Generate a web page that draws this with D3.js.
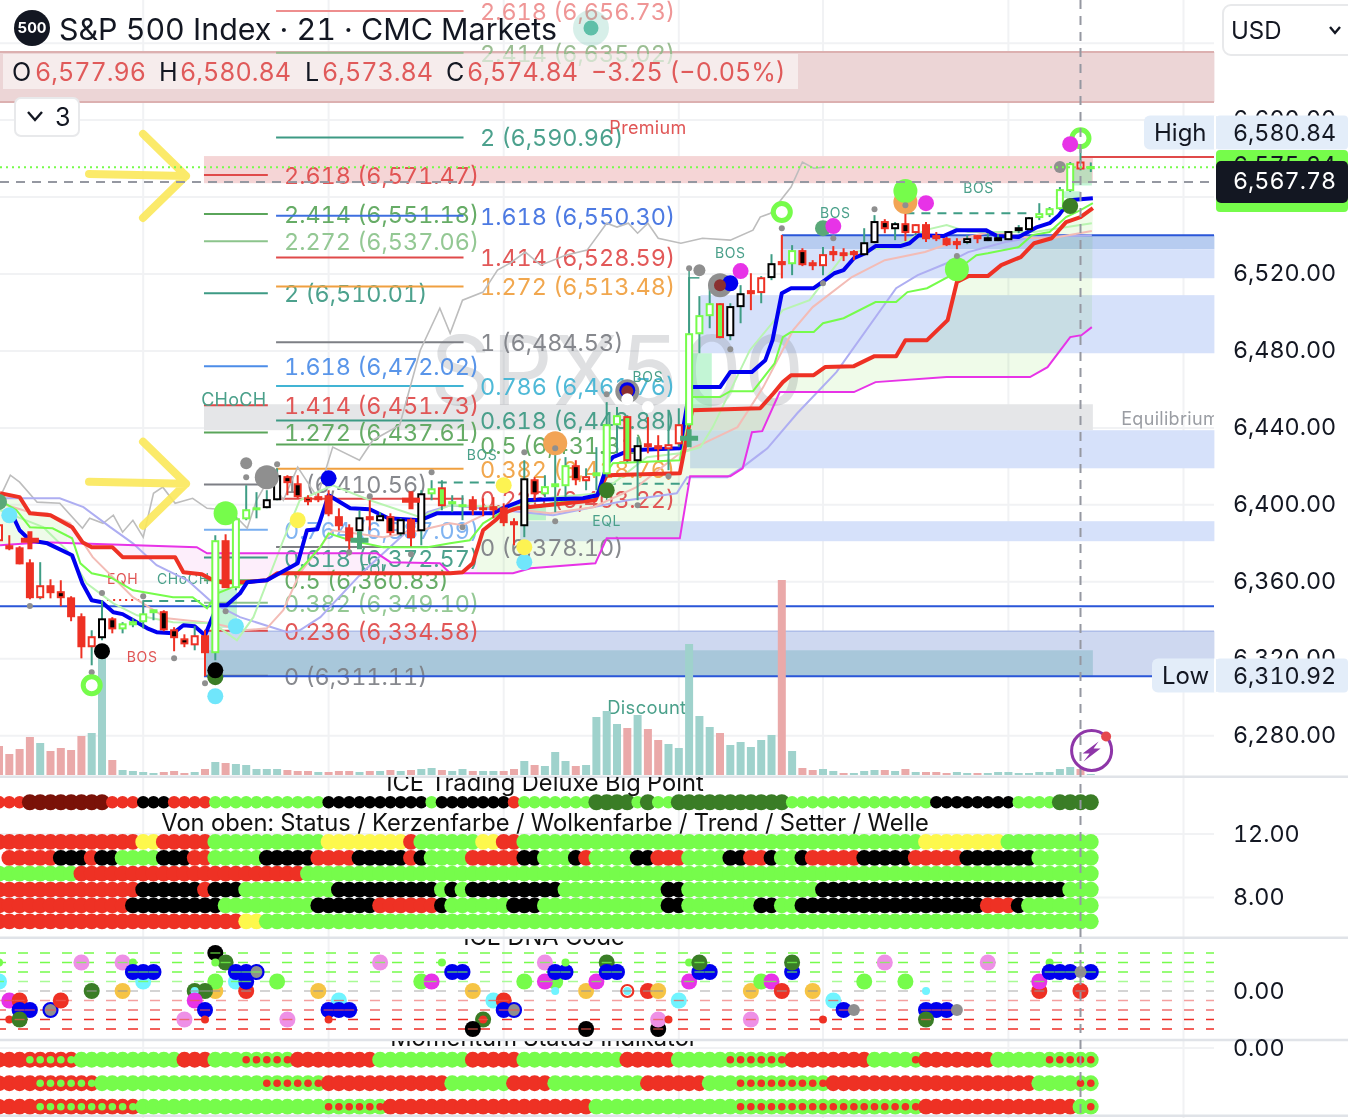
<!DOCTYPE html>
<html><head><meta charset="utf-8">
<style>html,body{margin:0;padding:0;background:#fff;overflow:hidden}svg{display:block;font-family:Inter,"Noto Sans",sans-serif}svg text{font-variant-numeric:tabular-nums;font-feature-settings:"tnum" 1}</style>
<script src="https://cdn.jsdelivr.net/npm/d3@7/dist/d3.min.js"></script>
</head><body><svg id="c" width="1348" height="1118"></svg>
<script>
// ---------- candles (bar index = position in arrays) ----------
const candleKinds = "HRRRHRBRRHKBGGGGBBBHRGRGGGKKBBBRRRRKRKBKRKGXGGRRRRRKBGGGBHGGGXKRRHHGGGXKKRHKRGBRHRRRKKBKBHRRRRKRKKKKKGGGGHG".split("");
const bodyTops = [6389.4,6378.5,6377.4,6369.6,6357.7,6357.7,6354.6,6351.4,6341.6,6331.2,6340.5,6340.5,6337.9,6339,6343.1,6345.2,6344.2,6334.8,6330.1,6331.7,6331.7,6381.1,6381.1,6392.5,6397.2,6398.2,6402.4,6414.9,6414.4,6410.7,6403.4,6404,6404.5,6393.6,6387.8,6393,6393.6,6394.1,6393.6,6392,6392,6405.5,6408.1,6408.6,6401.4,6399.8,6402.4,6398.2,6398.8,6398.2,6391,6413.3,6412.8,6409.2,6410.7,6420.1,6420.1,6414.4,6416.4,6441.4,6446.1,6445.6,6430.5,6431.5,6430.5,6431,6441.4,6488.7,6498.1,6504.3,6504.3,6502.8,6509.5,6511.1,6517.8,6525.1,6526.2,6531.9,6531.9,6525.6,6529.8,6531.4,6530.8,6531.4,6536,6547,6547,6545.9,6545.9,6545.4,6545.4,6539.7,6538.1,6536.6,6538.1,6539.7,6538.6,6538.6,6541.8,6543.8,6549,6551.1,6553.7,6563.6,6577.1,6577.96,6575.6];
const bodyBottoms = [6381.6,6377.4,6369.6,6352,6352,6354.6,6352,6342.1,6326.5,6326.5,6331.2,6335.8,6335.8,6337.9,6339.5,6344.2,6335.3,6331.2,6328,6327.5,6323.4,6323.4,6357.2,6357.2,6393,6397.7,6398.8,6402.9,6411.8,6404.5,6401.9,6402.9,6395.6,6389.4,6381.6,6386.8,6392.5,6392,6385.8,6385.2,6383.2,6386.8,6406,6399.8,6400.8,6399.3,6397.7,6397.7,6397.7,6391,6389.9,6389.4,6406,6406,6409.7,6410.2,6413.3,6412.8,6415.4,6416.4,6441.9,6423.2,6423.2,6430.5,6429.4,6429.4,6432,6441.9,6489.2,6498.6,6487.2,6488.2,6503.3,6510,6510.6,6518.4,6525.1,6525.6,6525.1,6524.6,6524.6,6530.3,6529.8,6530.3,6530.3,6536.6,6543.8,6543.8,6541.8,6541.8,6538.6,6538.6,6535.5,6535.5,6536.6,6538.6,6537.6,6537.6,6538.1,6542.8,6543.3,6549.6,6551.1,6554.2,6563.6,6574.84,6575];
const highs = [6392,6384.2,6378.5,6371.7,6370.2,6361.3,6360.8,6352.5,6343.6,6334.8,6350.4,6341.6,6339,6341,6350.4,6345.2,6345.2,6336.4,6332.7,6336.9,6334.8,6384.2,6384.7,6396.2,6410.2,6406.6,6407.6,6419,6415.4,6415.4,6405,6406,6407.6,6398.2,6389.9,6397.2,6402.4,6396.2,6395.6,6393,6393,6407.6,6412.8,6412.8,6405,6405,6404.5,6403.4,6404,6400.8,6393,6423.2,6414.4,6415.4,6429.4,6424.8,6423.2,6419,6430,6453.4,6450.8,6446.6,6435.2,6445.6,6436.2,6449.2,6450.2,6518.4,6508.5,6512.6,6504.8,6504.8,6514.2,6520.4,6518.9,6530.3,6540.2,6535,6533.4,6527.2,6534,6534.5,6533.4,6532.4,6543.8,6550.6,6548.5,6547,6551.6,6545.9,6547,6541.8,6539.2,6538.6,6540.2,6540.2,6541.2,6540.7,6542.3,6545.4,6549.6,6556.8,6554.8,6565.2,6578.2,6585,6578];
const lows = [6379,6376.4,6369.1,6350.9,6350.9,6351.4,6347.3,6339.5,6320.2,6316.6,6329.6,6333.2,6333.2,6336.4,6335.8,6340,6334.3,6323.9,6326,6324.4,6310.9,6319.2,6357.2,6355.6,6392,6393,6398.2,6402.4,6405,6403.4,6399.8,6401.4,6394.1,6386.8,6373.8,6384.2,6386.8,6392,6384.2,6383.7,6378.5,6379,6402.4,6397.2,6396.2,6392,6394.6,6394.1,6393,6388.9,6379,6383.2,6402.4,6404,6396.2,6404,6410.2,6407.6,6407.6,6414.4,6426.8,6422.2,6402.4,6426.8,6423.2,6418,6430,6440.4,6478.8,6491.8,6486.6,6485.6,6494.4,6501.2,6504.8,6516.8,6517.8,6519.4,6524.1,6522,6519.4,6526.7,6526.7,6527.2,6529.8,6536,6541.2,6537.6,6537.1,6540.2,6536.6,6537.1,6534.5,6532.9,6535.5,6536,6537.1,6537.1,6537.6,6541.2,6542.8,6548,6549.6,6553.2,6562.6,6573.84,6573];
const volumes = [29,21,26,38,32,24,27,25,39,42,125,15,5,4,3,2,3,4,2,3,6,13,12,11,10,6,6,6,5,4,4,3,3,4,4,3,4,4,5,4,5,6,7,5,4,6,4,4,4,4,6,14,10,9,23,14,9,10,58,64,51,47,60,46,35,31,27,131,59,48,42,30,33,28,35,40,195,24,7,5,6,4,2,2,4,5,5,4,6,3,3,3,2,3,2,2,2,3,3,2,2,3,3,6,8,6,1];
const volumeDown = [0,1,2,3,5,6,7,8,11,16,17,18,20,22,28,29,30,32,33,34,36,38,40,43,46,49,50,52,56,61,63,64,70,76,78,79,82,86,88,90,91,92,95,105];

// ---------- moving lines: [bar, price] ----------
const blueLine = [[1.4,6393.6],[2,6386.8],[3,6381.6],[4.7,6380],[7.1,6373.8],[8.1,6359.2],[9,6350.4],[10,6349.4],[11.1,6344.2],[12,6343.2],[14.4,6335.8],[15.3,6333.8],[16.9,6333.2],[17.9,6337.4],[19,6336.9],[20,6332.2],[21.2,6347.8],[22.1,6347.8],[23.4,6354],[24.1,6359.8],[26,6360.8],[29,6369.6],[29.9,6386.8],[30.9,6387.3],[32,6405],[34.1,6398.2],[36,6397.7],[37.8,6393],[40.9,6392],[42.5,6395.6],[48,6395.6],[48.9,6398.2],[50.9,6402.4],[56.7,6403.4],[58.1,6405],[59.1,6421.6],[59.6,6424.8],[61.3,6428.4],[66.1,6429.4],[67.1,6461.2],[70,6461.2],[71,6469],[73.1,6469],[74.4,6475.2],[75.1,6485.6],[76,6510],[76.9,6512.6],[79.1,6512.6],[80.2,6516.8],[81.1,6520.4],[82,6522],[83,6528.2],[84.1,6530.8],[85.1,6534.5],[87.5,6534.5],[88.4,6536],[89.3,6540.2],[91.7,6539.7],[93,6542.8],[95.8,6542.8],[96.9,6539.7],[99,6539.2],[100.8,6544.4],[102,6546.4],[102.9,6550.6],[104,6558.4],[105,6558.9],[106.2,6559.4]];
const redLine = [[0.1,6406],[2,6404],[3,6395.6],[5,6394.6],[7.1,6388.4],[8.1,6380.6],[9,6378],[11,6378],[12,6372.8],[17.1,6372.8],[17.9,6365],[19.7,6363.9],[20.8,6360.8],[21.5,6359.8],[23.7,6359.8],[26,6360.8],[27,6364.4],[43.8,6364.4],[45,6365],[46,6369.6],[47,6386.8],[48.2,6392],[48.9,6395.6],[50.3,6398.2],[57.9,6402.4],[59,6415.4],[66.1,6416.4],[67.3,6449.2],[73.9,6450.2],[75.2,6458],[76.1,6463.8],[76.9,6467.4],[79.1,6467.4],[80.2,6471.6],[83,6472.1],[85,6477.3],[87.1,6477.3],[88,6485.6],[90.1,6485.6],[92.1,6496],[93,6515.8],[94.1,6518.9],[96,6518.9],[97.3,6524.6],[99.2,6528.8],[100.5,6536],[102.2,6538.6],[103.6,6547],[105,6549.6],[106.2,6554.2]];
const limeLine = [[0.1,6402.4],[1.7,6397.2],[3,6388.4],[5.2,6387.8],[7.1,6382.6],[7.9,6369.6],[9,6364.4],[10.8,6362.4],[13,6355.6],[16.9,6352],[18.8,6352],[20.2,6346.2],[21.2,6354],[22.7,6357.2],[24.1,6359.8],[26,6360.8],[27,6364.4],[29,6365],[31.2,6378],[32,6385.2],[34.1,6381.6],[37.3,6378],[41.6,6378],[43.8,6380],[45.7,6381.6],[47,6390.4],[48.6,6395.6],[50.3,6398.2],[57.9,6404],[59,6417],[59.6,6421.6],[66.1,6423.2],[67.1,6456],[70,6456],[71,6459.1],[73.2,6459.1],[75.3,6473.6],[76.1,6487.2],[76.9,6489.8],[79.1,6489.8],[80,6494.4],[82,6497],[85.1,6505.4],[87.1,6505.4],[88.2,6510.6],[90.1,6512.6],[92.1,6518.4],[94.9,6529.8],[96,6530.8],[99,6534],[100.3,6540.2],[102,6541.8],[103.6,6549.6],[105,6553.2],[106.2,6556.8]];
const magentaLine = [[0.1,6379],[4.3,6380.6],[19.2,6378],[20.2,6374.8],[36.7,6374.8],[38,6370.2],[42.8,6369.6],[43.8,6364.4],[49.9,6364.4],[51.6,6367],[57.9,6369.6],[59,6382.6],[66.1,6382.6],[67.1,6414.9],[71,6414.9],[72.2,6419],[73.1,6437.8],[74.1,6438.3],[75.8,6458.6],[83,6458.6],[85.1,6463.8],[92,6466.4],[100.1,6466.4],[101.8,6471.6],[104,6487.2],[105.1,6488.2],[106.1,6492.4]];
const paleBlueLine = [[0.1,6403.4],[5.9,6403.4],[8.2,6398.8],[10.8,6388.4],[13,6380],[15.3,6368.6],[18.3,6360.8],[20.8,6348.8],[23.4,6341.6],[28,6333.8],[29.2,6334.8],[31.2,6341.6],[35.3,6365],[39,6383.2],[41.6,6396.2],[43.8,6399.8],[53.8,6394.6],[61,6402.4],[65.8,6406],[66.8,6414.4],[70.7,6414.4],[72.2,6419.6],[74.6,6429.4],[77.5,6447.6],[81.3,6469],[87.1,6512.6],[89.2,6519.4],[92,6525.6],[94.1,6531.4],[97.7,6536.6],[100.5,6539.2],[106.1,6540.2]];
const paleRedLine = [[0.1,6400.8],[3,6396.2],[4.7,6395.6],[6.9,6390.4],[9.1,6372.8],[13,6352],[16.3,6341],[20.8,6338.4],[23.7,6334.8],[26,6335.8],[27.6,6345.2],[29.2,6364.4],[32.4,6386.8],[37.3,6383.2],[40.9,6386.8],[43.8,6390.4],[45,6389.4],[48.6,6398.8],[53.5,6395.6],[57.7,6398.8],[61.9,6409.2],[66.1,6426.8],[68.4,6432],[71.7,6440.4],[74.2,6461.2],[77.1,6490.8],[79,6502.8],[82.8,6518.4],[86,6527.2],[89.9,6531.4],[94.1,6539.2],[96.2,6541.8],[100.5,6538.6],[102.2,6538.6],[106.1,6542.3]];
const paleGreenLine = [[0.1,6397.2],[4.3,6388.4],[6.6,6376.4],[8.5,6359.2],[11.1,6348.8],[13.4,6342.6],[16.9,6339],[20.8,6338.4],[23.1,6329.6],[24.7,6341.6],[27.6,6381.6],[29.2,6402.4],[32.4,6410.2],[36,6402.4],[40.9,6393.6],[43.8,6399.8],[49.6,6398.8],[53.8,6404],[58.4,6406],[62.9,6424.8],[66.1,6426.8],[68.1,6430],[69.3,6440.4],[72.9,6480.4],[76.1,6501.2],[78.7,6506.4],[82,6529.8],[83.9,6532.4],[87.1,6534],[89.9,6542.8],[92,6545.4],[94.1,6541.8],[96.2,6541.8],[100.5,6541.8],[106.1,6546.4]];
const greyLine = [[0.1,6404],[1.1,6415.4],[2,6411.8],[3.7,6401.4],[5.9,6400.8],[8.1,6387.8],[8.8,6393],[10.1,6390.4],[11.1,6394.6],[12,6385.8],[13,6392],[14,6383.2],[15,6406],[15.9,6409.2],[17.1,6400.8],[18.8,6403.4],[20.2,6398.2],[22.4,6397.2],[24.1,6387.8],[25,6402.4],[26.3,6414.4],[27.6,6402.4],[29,6419.6],[30.9,6404],[32.4,6430],[35,6423.2],[36.3,6433.6],[38.9,6441.4],[40.9,6480.4],[42.8,6502.2],[43.8,6489.2],[45,6506.4],[47,6510.6],[48.4,6522],[49.6,6525.6],[51.1,6531.4],[52.6,6524.6],[55,6529.8],[57.1,6532.4],[59,6546.4],[60,6544.4],[61.1,6546.4],[62,6541.2],[63,6546.4],[64,6538.6],[66.2,6536],[68.3,6538.6],[71,6537.6],[73.2,6542.8],[73.9,6549.6],[74.9,6551.6],[76.9,6565.2],[78,6578.2],[79.1,6575],[80.2,6575.6]];

// ---------- zones: [fromBar, toBar, topPrice, bottomPrice, kind] ----------
const zones = [
 [-0.1,118,6635.4,6609.4,"premiumBand"],[19.9,106.2,6581.3,6567.2,"premium"],
 [76,118,6540.2,6532.9,"blueDark"],[76,118,6532.9,6517.8,"blue"],[68.1,118,6509,6478.8,"blue"],
 [19.9,106.2,6452.3,6438.8,"equilibrium"],[67.1,118,6438.8,6419,"blue"],[50.6,118,6391.5,6381.1,"blue"],
 [19.9,118,6334.3,6310.9,"discount"],[19.9,106.2,6324.4,6310.9,"discountDark"]];
const gapBoxes = [[67.1,69.2,6478.8,6449.2],[51.2,53.1,6399.8,6392],[21,23.1,6356.2,6336],[104,106.1,6575,6566],[103,105,6563,6559.5]];

// ---------- fibonacci sets ----------
const fibLeftRatios = ["2.618","2.414","2.272","2","1.618","1.414","1.272","1","0.764","0.618","0.5","0.382","0.236","0"];
const fibLeftPrices = [6571.47,6551.18,6537.06,6510.01,6472.02,6451.73,6437.61,6410.56,6387.09,6372.57,6360.83,6349.10,6334.58,6311.11];
const fibLeftKinds = ["red","green","paleGreen","teal","blue","red","green","grey","skyBlue","teal","green","paleGreen","red","grey"];
const fibRightRatios = ["2.618","2.414","2","1.618","1.414","1.272","1","0.786","0.618","0.5","0.382","0.236","0"];
const fibRightPrices = [6656.73,6635.02,6590.96,6550.30,6528.59,6513.48,6484.53,6461.76,6443.88,6431.31,6418.76,6403.22,6378.10];
const fibRightKinds = ["paleRed","olive","teal","royal","red","orange","grey","cyan","teal","green","orange","red","grey"];

// ---------- markers on the price pane: [bar, price, kind] ----------
const priceMarkers = [[0,6401.5,"softGreen"],[1,6394.6,"cyan"],[3,6347.4,"gray"],[10,6354.2,"gray"],[9,6313,"gray"],[9,6306.2,"ring"],[10,6323.9,"black"],[14,6352.5,"gray"],[17,6320.2,"gray"],[20,6307.2,"gray"],[21,6310.4,"darkGreen"],[21,6314,"black"],[21,6300.5,"cyan"],[23,6336.9,"cyan"],[22,6395.6,"limeBig"],[24,6421.6,"grayMid"],[24,6414.4,"gray"],[26,6414.4,"grayBig"],[27,6421.1,"gray"],[29,6392,"yellow"],[32,6413.8,"blue"],[36,6404.5,"gray"],[34,6375.4,"gray"],[40,6374.3,"gray"],[42,6417,"gray"],[22,6344.7,"gray"],[45,6388.4,"gray"],[49,6410.2,"yellow"],[51,6427.4,"gray"],[51,6370.2,"cyan"],[51,6378,"yellow"],[54,6432,"orangeBig"],[54,6429.4,"gray"],[54,6391.5,"gray"],[59,6407.6,"darkGreen"],[59,6457.5,"gray"],[61,6459.1,"grayBig"],[61,6459.6,"blue"],[61,6459.1,"darkRed"],[61,6454.9,"white"],[63,6450.8,"white"],[62,6399.8,"gray"],[65,6414.9,"gray"],[67,6523,"gray"],[68,6522,"grayMid"],[70,6514.2,"grayBig"],[71,6515.2,"blue"],[70,6514.2,"darkRed"],[72,6521.5,"magenta"],[71,6480.9,"gray"],[80,6515.2,"gray"],[76,6552.2,"ring"],[76,6543.8,"gray"],[80,6543.8,"softGreen"],[81,6544.9,"magenta"],[81,6538.6,"gray"],[85,6553.7,"gray"],[88,6557.4,"orangeBig"],[88,6563.1,"limeBig"],[88,6555.8,"gray"],[90,6556.8,"magenta"],[93,6522.5,"limeBig"],[93,6529.3,"gray"],[104,6555.3,"darkGreen"],[103,6575.6,"grayMid"],[105,6590.6,"ring"],[104,6587.5,"magenta"]];
const plusMarkers = [[3,6381.6,"red"],[40,6402.4,"red"],[35,6381.6,"teal"],[67,6434.6,"teal"]];

// ---------- small texts: [text, bar, price, size, kind] ----------
const chartNotes = [["Premium",63,6596.4,18,"red"],["Equilibrium",113.7,6445,18,"grey"],["Discount",62.9,6294.6,18.4,"teal"],["CHoCH",22.8,6454.9,18,"teal"],["BOS",71,6530.8,14,"teal"],["BOS",81.2,6551.6,14,"teal"],["BOS",95.1,6564.6,14,"teal"],["BOS",63,6466.4,14,"teal"],["BOS",46.9,6425.8,14,"teal"],["BOS",13.9,6320.8,14,"red"],["EQL",59,6391.5,14,"teal"],["EQH",12,6361.3,14,"red"],["CHoCH",17.9,6361.3,14,"teal"],["EQL",36.5,6366,14,"teal"]];
const dashedLevels = [[42.6,49.3,6411.6,"teal"],[59,67,6411,"teal"],[88,100,6551.6,"teal"],[14,19.5,6350,"teal"],[10.5,14,6350.5,"redDot"]];

// ---------- oscillator rows as runs of [state, count] ----------
const bigPointRuns = [["red",3],["maroon",8],["red",3],["black",3],["red",4],["lime",11],["black",10],["lime",1],["black",7],["red",1],["lime",7],["forest",4],["lime",1],["forest",1],["lime",2],["forest",11],["lime",14],["black",8],["lime",4],["forest",4]];
const statusRuns = [["red",14],["yellow",2],["red",5],["lime",11],["yellow",8],["red",1],["lime",6],["yellow",2],["red",2],["lime",39],["yellow",8],["lime",9]];
const candleColorRuns = [["none",1],["red",5],["black",3],["red",1],["black",2],["lime",4],["black",3],["red",2],["lime",5],["black",5],["red",4],["black",5],["red",1],["black",1],["lime",4],["red",5],["black",2],["lime",3],["black",1],["red",1],["lime",4],["black",2],["red",3],["lime",4],["black",2],["red",2],["black",1],["lime",2],["black",1],["red",5],["black",5],["red",5],["black",7],["lime",6]];
const cloudRuns = [["lime",8],["red",22],["lime",77]];
const trendRuns = [["red",14],["black",6],["red",1],["black",3],["lime",9],["black",10],["lime",1],["black",1],["lime",1],["black",9],["lime",10],["black",2],["lime",13],["black",24],["lime",3]];
const setterRuns = [["red",13],["black",9],["lime",9],["black",6],["red",6],["black",1],["lime",6],["black",3],["lime",12],["black",2],["lime",7],["black",2],["lime",2],["black",18],["red",3],["black",1],["lime",7]];
const waveRuns = [["red",24],["yellow",2],["lime",81]];
const momentumRunsA = [["red",3],["redLime",5],["lime",10],["red",3],["lime",3],["limeRed",5],["red",8],["lime",9],["red",5],["lime",10],["red",5],["lime",5],["limeRed",6],["red",8],["lime",4],["limeRed",1],["red",7],["lime",5],["limeRed",5]];
const momentumRunsB = [["red",4],["redLime",6],["lime",16],["limeRed",6],["red",12],["lime",6],["red",4],["lime",9],["red",6],["lime",3],["limeRed",9],["red",20],["lime",4],["limeRed",2]];
const momentumRunsC = [["red",4],["redLime",10],["lime",18],["limeRed",6],["red",20],["lime",14],["limeRed",18],["red",15],["lime",1],["limeRed",1]];
const deluxeRowValues = [14];
const iceRowValues = [11.5,10.5,9.5,8.5,7.5,6.5];
const momentumRowValues = [-0.5,-1.5,-2.5];

// ---------- DNA code: [bar, level, kind] ----------
const dnaLevels = [4,3,2,1,0,-1,-2,-3,-4];
const dnaKinds = ["lime","lime","lime","paleLime","pale","paleRed","midRed","red","red"];
const dnaPoints = [[0,3,"limeS"],[0,1,"cyan"],[1,-1,"magenta"],[2,-1,"red"],[2,-2,"blue"],[3,-2,"blue"],[1,-3,"redS"],[2,-3,"darkGreen"],[5,-2,"grayRing"],[6,-1,"red"],[8,3,"orchid"],[9,0,"darkGreen"],[12,3,"orchid"],[13,3,"limeS"],[12,0,"gold"],[14,1,"cyan"],[13,2,"blue"],[14,2,"blue"],[15,2,"blue"],[21,4,"black"],[22,3,"darkGreen"],[21,3,"limeS"],[21,0,"gold"],[21,1,"lime"],[19,0,"darkGreen"],[20,0,"darkGreen"],[19,0,"cyanS"],[19,-1,"magenta"],[20,-2,"blue"],[20,-3,"redS"],[18,-3,"orchid"],[23,1,"cyan"],[24,0,"red"],[24,1,"blue"],[23,2,"blue"],[24,2,"blue"],[25,2,"grayRing"],[27,1,"lime"],[31,0,"gold"],[33,-1,"cyan"],[32,-2,"blue"],[33,-2,"blue"],[34,-2,"blue"],[32,-3,"redS"],[28,-3,"orchid"],[37,3,"orchid"],[43,3,"limeS"],[41,1,"lime"],[42,1,"magenta"],[44,2,"blue"],[45,2,"blue"],[46,0,"gold"],[48,-1,"cyan"],[49,-1,"red"],[49,-2,"blue"],[50,-2,"grayRing"],[47,-3,"darkGreen"],[47,-3,"redS"],[46,-4,"black"],[51,1,"lime"],[53,3,"orchid"],[54,1,"lime"],[53,1,"magenta"],[54,2,"blue"],[55,2,"blue"],[55,3,"limeS"],[54,0,"cyanS"],[57,0,"gold"],[57,-4,"black"],[58,1,"magenta"],[59,3,"darkGreen"],[59,2,"blue"],[60,2,"blue"],[61,0,"redRing"],[63,0,"red"],[64,0,"gold"],[64,-4,"black"],[64,-3,"orchid"],[65,-3,"redS"],[66,-1,"cyan"],[67,3,"limeS"],[67,1,"magenta"],[68,2,"blue"],[69,2,"blue"],[68,3,"darkGreen"],[73,0,"gold"],[73,-3,"orchid"],[74,1,"lime"],[75,1,"magenta"],[76,0,"red"],[77,2,"blue"],[77,3,"darkGreen"],[79,0,"gold"],[80,-3,"redS"],[81,-1,"cyan"],[82,-2,"blue"],[83,-2,"grayS"],[84,1,"lime"],[86,3,"orchid"],[88,1,"lime"],[90,0,"cyanS"],[90,-2,"blue"],[91,-2,"blue"],[92,-2,"blue"],[93,-2,"grayS"],[90,-3,"darkGreen"],[96,3,"orchid"],[102,3,"limeS"],[101,0,"red"],[101,1,"magenta"],[102,2,"blue"],[103,2,"blue"],[104,2,"blue"],[106,2,"blue"],[105,2,"grayS"],[105,0,"red"]];

// ---------- axes & texts ----------
const priceTicks = [6600,6575.84,6520,6480,6440,6400,6360,6320,6280];
const priceGrid = [6640,6600,6560,6520,6480,6440,6400,6360,6320,6280];
const verticalGridBars = [14,32,49,66,80,98,115];
const iceTicks = [12,8];
const dnaTicks = [0];
const momentumTicks = [0];
const headerFields = [["O","6,577.96"],["H","6,580.84"],["L","6,573.84"],["C","6,574.84"]];
const headerChange = "\u22123.25 (\u22120.05%)";
const lastPrice = 6567.78, sessionHigh = 6580.84, sessionLow = 6310.92, prevDotted = 6575.5, blueLevel = 6347.3, topBlueLevel = 6540.2;

// ---------- styles ----------
const RED="#ee3124", LIME="#76fc4b", TEAL="#3f9d85";
const fibColors={red:"#e04a4a",green:"#5aa55a",paleGreen:"#8cc48c",teal:"#3d9a84",blue:"#4c8de8",grey:"#7d7f85",skyBlue:"#77aef0",paleRed:"#ee8e8e",olive:"#93b98a",royal:"#3e6fe0",orange:"#f0a040",cyan:"#41b4d4"};
const zoneStyle={premiumBand:"#ecd5d6",premium:"#f5d5d6",blue:"#d6e1fa",blueDark:"#b7ccf0",equilibrium:"#e5e6e8",discount:"#ced8f0",discountDark:"#a8c7da"};
const markerStyle={softGreen:["#5aa878",8],cyan:["#70e6fb",8],gray:["#8f8f8f",3],grayMid:["#8f8f8f",6],grayBig:["#8f8f8f",12],black:["#000",8],darkGreen:["#3a7d26",8],limeBig:[LIME,12],yellow:["#fdf352",8],blue:["#0000ee",8],orangeBig:["#f2a455",12],darkRed:["#8a3030",6],white:["#fff",6],magenta:["#e733e7",8]};
const dotColors={red:RED,lime:LIME,black:"#000",yellow:"#fdf84c",maroon:"#7a1208",forest:"#3a7d26"};
const dnaStroke={lime:"#76fc4b",paleLime:"#a8fb95",pale:"#c6c6c6",paleRed:"#f4a0a0",midRed:"#ee7070",red:"#ee2d24"};
const dnaStyle={lime:[LIME,8],limeS:[LIME,4],cyan:["#70f4ff",8],cyanS:["#70f4ff",4],magenta:["#e733e7",8],red:[RED,8],redS:[RED,4],blue:["#0000ee",8],darkGreen:["#3a7d26",8],orchid:["#ee90e6",8],gold:["#f6c445",8],black:["#000",8],grayS:["#8f8f8f",6]};

// ---------- scales ----------
const svg=d3.select("#c");
const W=1348,H=1118,plotR=1214;
const x=d3.scaleLinear().domain([0,106]).range([-1,1090.8]);
const y=d3.scaleLinear().domain([6520,6280]).range([274,735.7]);
const vol=d3.scaleLinear().domain([0,195]).range([775,580]);
const iceY=d3.scaleLinear().domain([8,12]).range([897.5,834]);
const dnaY=d3.scaleLinear().domain([0,4]).range([991,953]);
const momY=d3.scaleLinear().domain([0,-1]).range([1048,1071.5]);
const line=d3.line().x(d=>x(d[0])).y(d=>y(d[1]));
const expand=runs=>runs.flatMap(([s,n])=>d3.range(n).map(()=>s));

const defs=svg.append("defs");
const clip=(id,a,b,c,d)=>defs.append("clipPath").attr("id",id).append("rect").attr("x",a).attr("y",b).attr("width",c).attr("height",d);
clip("plot",0,0,plotR,777);
clip("cloudPink",x(6.6),0,x(46.4)-x(6.6),777);
clip("cloudGreen",x(46.4),0,x(106.2)-x(46.4),777);
clip("cloudGreenL",0,0,x(6.6),777);
clip("t1",0,777,W,40);clip("t3",0,939,W,30);clip("t4",0,1041,W,30);clip("eq",0,0,plotR,H);

// grid
const grid=svg.append("g").attr("stroke","#f1f2f4").attr("stroke-width",2);
grid.selectAll(".v").data(verticalGridBars).join("line").attr("class","v").attr("x1",d=>x(d)).attr("x2",d=>x(d)).attr("y1",0).attr("y2",H);
grid.selectAll(".h").data(priceGrid).join("line").attr("class","h").attr("x1",0).attr("x2",plotR).attr("y1",d=>y(d)).attr("y2",d=>y(d));
grid.selectAll(".i").data(iceTicks).join("line").attr("class","i").attr("x1",0).attr("x2",plotR).attr("y1",d=>iceY(d)).attr("y2",d=>iceY(d));
grid.selectAll(".m").data(momentumTicks).join("line").attr("class","m").attr("x1",0).attr("x2",plotR).attr("y1",d=>momY(d)).attr("y2",d=>momY(d));

// zones
const zg=svg.append("g");
zg.selectAll("rect").data(zones).join("rect").attr("x",d=>x(d[0])).attr("width",d=>x(d[1])-x(d[0])).attr("y",d=>y(d[2])).attr("height",d=>y(d[3])-y(d[2])).attr("fill",d=>zoneStyle[d[4]]);
zg.append("line").attr("x1",0).attr("x2",plotR).attr("y1",y(6635.4)).attr("y2",y(6635.4)).attr("stroke","#dcb0b0").attr("stroke-width",2);
zg.append("line").attr("x1",0).attr("x2",plotR).attr("y1",y(6609.4)).attr("y2",y(6609.4)).attr("stroke","#dcb0b0").attr("stroke-width",2);
zg.append("line").attr("x1",x(19.9)).attr("x2",plotR).attr("y1",y(6334.3)).attr("y2",y(6334.3)).attr("stroke","#aebde8").attr("stroke-width",1.5);

// watermark
svg.append("text").attr("x",430).attr("y",y(6452)).attr("font-size",96).attr("fill","#7d8088").attr("opacity",.24).text("SPX500");

// cloud
const cloudPath="M"+redLine.map(d=>x(d[0])+","+y(d[1])).join("L")+"L"+magentaLine.slice().reverse().map(d=>x(d[0])+","+y(d[1])).join("L")+"Z";
svg.append("path").attr("d",cloudPath).attr("fill","#fdeefb").attr("style","mix-blend-mode:multiply").attr("clip-path","url(#cloudPink)");
svg.append("path").attr("d",cloudPath).attr("fill","#effbe9").attr("style","mix-blend-mode:multiply").attr("clip-path","url(#cloudGreen)");
svg.append("path").attr("d",cloudPath).attr("fill","#effbe9").attr("style","mix-blend-mode:multiply").attr("clip-path","url(#cloudGreenL)");

// gap boxes
svg.append("g").selectAll("rect").data(gapBoxes).join("rect").attr("x",d=>x(d[0])).attr("width",d=>x(d[1])-x(d[0])).attr("y",d=>y(d[2])).attr("height",d=>y(d[3])-y(d[2])).attr("fill","#6fe89a").attr("opacity",.42);

// fib sets
function fibSet(ratios,prices,kinds,x0,x1,tx){
  const g=svg.append("g");
  g.selectAll("line").data(prices).join("line").attr("x1",x0).attr("x2",x1).attr("y1",d=>y(d)).attr("y2",d=>y(d)).attr("stroke",(d,i)=>fibColors[kinds[i]]).attr("stroke-width",2);
  g.selectAll("text").data(prices).join("text").attr("x",tx).attr("y",d=>y(d)).attr("dy",".38em").attr("font-size",23.4).attr("fill",(d,i)=>fibColors[kinds[i]]).attr("opacity",.92).text((d,i)=>ratios[i]+" ("+d3.format(",.2f")(d)+")");
}
fibSet(fibLeftRatios,fibLeftPrices,fibLeftKinds,x(19.9),x(26.1),284);
fibSet(fibRightRatios,fibRightPrices,fibRightKinds,x(26.9),x(45.1),480);

// horizontals
const hl=svg.append("g");
hl.append("line").attr("x1",0).attr("x2",plotR).attr("y1",y(blueLevel)).attr("y2",y(blueLevel)).attr("stroke","#2a56d8").attr("stroke-width",2);
hl.append("line").attr("x1",x(19.9)).attr("x2",plotR).attr("y1",y(sessionLow)).attr("y2",y(sessionLow)).attr("stroke","#2a56d8").attr("stroke-width",2);
hl.append("line").attr("x1",x(76)).attr("x2",plotR).attr("y1",y(topBlueLevel)).attr("y2",y(topBlueLevel)).attr("stroke","#2a56d8").attr("stroke-width",2);
hl.append("line").attr("x1",x(105)).attr("x2",plotR).attr("y1",y(sessionHigh)).attr("y2",y(sessionHigh)).attr("stroke","#e04a4a").attr("stroke-width",2);
hl.append("line").attr("x1",x(76)).attr("x2",x(76)).attr("y1",y(6540.2)).attr("y2",y(6517.8)).attr("stroke","#e04a4a").attr("stroke-width",1.5);
hl.append("line").attr("x1",x(67)).attr("x2",x(67)).attr("y1",y(6523)).attr("y2",y(6490)).attr("stroke",TEAL).attr("stroke-width",1.5);
hl.append("line").attr("x1",x(67)).attr("x2",x(68)).attr("y1",y(6518)).attr("y2",y(6518)).attr("stroke",TEAL).attr("stroke-width",1.5);
hl.append("line").attr("x1",x(59)).attr("x2",x(59)).attr("y1",y(6411)).attr("y2",y(6402)).attr("stroke",TEAL).attr("stroke-width",1.5);
hl.selectAll(".dl").data(dashedLevels).join("line").attr("class","dl").attr("x1",d=>x(d[0])).attr("x2",d=>x(d[1])).attr("y1",d=>y(d[2])).attr("y2",d=>y(d[2])).attr("stroke",d=>d[3]==="teal"?TEAL:RED).attr("stroke-width",2).attr("stroke-dasharray",d=>d[3]==="teal"?"9 7":"2 4");

// notes
svg.append("g").attr("clip-path","url(#eq)").selectAll("text").data(chartNotes).join("text").attr("x",d=>x(d[1])).attr("y",d=>y(d[2])).attr("dy",".36em").attr("text-anchor","middle").attr("font-size",d=>d[3]).attr("letter-spacing",d=>d[3]===14?.6:.3).attr("fill",d=>d[4]==="red"?"#e05555":d[4]==="teal"?"#4aa08a":"#9a9da3").text(d=>d[0]);

// moving lines
const lg=svg.append("g").attr("fill","none").attr("clip-path","url(#plot)");
lg.append("path").attr("d",line(greyLine)).attr("stroke","#bdbdbd").attr("stroke-width",1.6);
lg.append("path").attr("d",line(paleBlueLine)).attr("stroke","#aeaef2").attr("stroke-width",2);
lg.append("path").attr("d",line(paleRedLine)).attr("stroke","#f3bcb6").attr("stroke-width",2);
lg.append("path").attr("d",line(paleGreenLine)).attr("stroke","#b9f4b1").attr("stroke-width",2);
lg.append("path").attr("d",line(magentaLine)).attr("stroke","#e733e7").attr("stroke-width",2);
lg.append("path").attr("d",line(limeLine)).attr("stroke",LIME).attr("stroke-width",2);
lg.append("path").attr("d",line(redLine)).attr("stroke",RED).attr("stroke-width",4).attr("stroke-linejoin","round");
lg.append("path").attr("d",line(blueLine)).attr("stroke","#0000f0").attr("stroke-width",4).attr("stroke-linejoin","round");

// volume
svg.append("g").selectAll("rect").data(volumes).join("rect").attr("x",(d,i)=>x(i)-4).attr("width",8).attr("y",d=>vol(d)).attr("height",d=>vol(0)-vol(d)).attr("fill",(d,i)=>volumeDown.includes(i)?"#eaa9a9":"#9fd2cc");

// candles
const bodyFill={R:RED,B:"#000",H:"#fff",G:"#fff",K:"#fff",X:LIME};
const bodyStroke={R:RED,B:RED,H:RED,G:LIME,K:"#000",X:RED};
const wickColor={R:RED,B:RED,H:TEAL,G:TEAL,K:TEAL,X:TEAL};
const cg=svg.append("g").selectAll("g").data(candleKinds).join("g");
cg.append("line").attr("x1",(d,i)=>x(i)).attr("x2",(d,i)=>x(i)).attr("y1",(d,i)=>y(highs[i])).attr("y2",(d,i)=>y(lows[i])).attr("stroke",d=>wickColor[d]).attr("stroke-width",2);
cg.append("rect").attr("x",(d,i)=>x(i)-3).attr("width",6).attr("y",(d,i)=>y(bodyTops[i])).attr("height",(d,i)=>Math.max(.6,y(bodyBottoms[i])-y(bodyTops[i]))).attr("fill",d=>bodyFill[d]).attr("stroke",d=>bodyStroke[d]).attr("stroke-width",2);

// markers
const mk=svg.append("g");
mk.selectAll("circle").data(priceMarkers).join("circle").attr("cx",d=>x(d[0])).attr("cy",d=>y(d[1])).attr("r",d=>d[2]==="ring"?8.5:markerStyle[d[2]][1]).attr("fill",d=>d[2]==="ring"?"none":markerStyle[d[2]][0]).attr("stroke",d=>d[2]==="ring"?LIME:"none").attr("stroke-width",5);
const plusColor={red:RED,teal:"#4aa878"};
mk.selectAll(".plus").data(plusMarkers).join("path").attr("class","plus").attr("d",d=>{const a=x(d[0]),b=y(d[1]);return `M${a-9},${b}H${a+9}M${a},${b-9}V${b+9}`;}).attr("stroke",d=>plusColor[d[2]]).attr("stroke-width",5).attr("fill","none");

// yellow arrows
const arrowPrices=[6571,6411];
svg.append("g").attr("fill","none").attr("stroke","#fbe85a").attr("stroke-width",8).attr("stroke-linecap","round").attr("stroke-linejoin","round").attr("opacity",.9)
 .selectAll("path").data(arrowPrices).join("path").attr("d",d=>{const t=y(d);return `M89,${t-2}L186,${t}M143,${t-42}L186,${t}L143,${t+42}`;});

// ice panel
function dots(g,runs,cy,r){
  g.append("g").selectAll("circle").data(expand(runs)).join("circle").attr("cx",(d,i)=>x(i)).attr("cy",cy).attr("r",d=>d==="none"?0:((d==="maroon"||d==="forest")?r+1.8:r)).attr("fill",d=>dotColors[d]||"none");
}
const pg=svg.append("g");
dots(pg,bigPointRuns,iceY(deluxeRowValues[0]),6.2);
[statusRuns,candleColorRuns,cloudRuns,trendRuns,setterRuns,waveRuns].forEach((r,i)=>dots(pg,r,iceY(iceRowValues[i]),7.9));

// DNA
const dg=svg.append("g");
dg.selectAll("line").data(dnaLevels).join("line").attr("x1",-4).attr("x2",plotR).attr("y1",d=>dnaY(d)).attr("y2",d=>dnaY(d)).attr("stroke",(d,i)=>dnaStroke[dnaKinds[i]]).attr("stroke-width",1.6).attr("stroke-dasharray","10 12");
const dp=dg.append("g").selectAll("g").data(dnaPoints).join("g").attr("transform",d=>`translate(${x(d[0])},${dnaY(d[1])})`);
dp.append("circle").attr("r",d=>d[2]==="grayRing"?7:d[2]==="redRing"?6:dnaStyle[d[2]][1]).attr("fill",d=>d[2]==="grayRing"?"#8f8f8f":d[2]==="redRing"?"#fff":dnaStyle[d[2]][0]).attr("stroke",d=>d[2]==="grayRing"?"#0000ee":d[2]==="redRing"?RED:"none").attr("stroke-width",2.2);
dp.filter(d=>d[2]==="redRing").append("circle").attr("r",4).attr("fill","#70f4ff");
dg.append("g").selectAll("line").data(dnaPoints).join("line").attr("x1",d=>x(d[0])-5).attr("x2",d=>x(d[0])+5).attr("y1",d=>dnaY(d[1])).attr("y2",d=>dnaY(d[1])).attr("stroke",d=>d[1]>0?LIME:d[1]<0?"#ee5a50":"#999").attr("stroke-width",1.4).attr("opacity",d=>(d[2].endsWith("S")?0:.75));

// momentum
const mg=svg.append("g");
[momentumRunsA,momentumRunsB,momentumRunsC].forEach((runs,k)=>{
  const s=expand(runs),cy=momY(momentumRowValues[k]);
  const row=mg.append("g");
  row.selectAll(".o").data(s).join("circle").attr("class","o").attr("cx",(d,i)=>x(i)).attr("cy",cy).attr("r",7.9).attr("fill",d=>d==="lime"||d==="limeRed"?LIME:RED);
  row.selectAll(".c").data(s.map((d,i)=>[d,i]).filter(e=>e[0]==="limeRed"||e[0]==="redLime")).join("circle").attr("class","c").attr("cx",e=>x(e[1])).attr("cy",cy).attr("r",3.8).attr("fill",e=>e[0]==="limeRed"?RED:LIME);
});

// panel separators and titles
svg.append("g").attr("stroke","#e0e3e8").attr("stroke-width",2.4).selectAll("line").data([776.7,937.7,1040,1115.7]).join("line").attr("x1",0).attr("x2",W).attr("y1",d=>d).attr("y2",d=>d);
const title=(t,cx,yy,cp)=>svg.append("text").attr("x",cx).attr("y",yy).attr("text-anchor","middle").attr("font-size",23.7).attr("fill","#111").attr("clip-path",cp?`url(#${cp})`:null).text(t);
title("ICE Trading Deluxe Big Point",545,791,"t1");
title("Von oben: Status / Kerzenfarbe / Wolkenfarbe / Trend / Setter / Welle",545,830.5);
title("ICE DNA Code",544,945,"t3");
title("Momentum Status Indikator",544,1046,"t4");

// crosshair
const ch=svg.append("g").attr("stroke","#9598a1").attr("stroke-width",2).attr("stroke-dasharray","9 7");
ch.append("line").attr("x1",x(105)).attr("x2",x(105)).attr("y1",0).attr("y2",H);
ch.append("line").attr("x1",0).attr("x2",plotR).attr("y1",y(lastPrice)).attr("y2",y(lastPrice));
svg.append("line").attr("x1",0).attr("x2",plotR).attr("y1",y(prevDotted)).attr("y2",y(prevDotted)).attr("stroke",LIME).attr("stroke-width",2).attr("stroke-dasharray","2 4");

// lightning badge
const bd=svg.append("g").attr("transform","translate(1091.6,750.5)");
bd.append("circle").attr("r",20).attr("fill","none").attr("stroke","#8e36a8").attr("stroke-width",3);
bd.append("path").attr("d","M7,-9L-9,3L-2,3L-8,11L9,-2L2,-2Z").attr("fill","#8e36a8");
bd.append("circle").attr("cx",14.5).attr("cy",-14).attr("r",5).attr("fill","#e5484d");

// right axes
const ax=svg.append("g").attr("transform","translate(1233,-1)");
const axisStyle=g=>{g.select(".domain").remove();g.selectAll("text").attr("font-size",23.3).attr("font-family","Inter").attr("fill","#131722").attr("text-anchor","start").attr("x",0);g.selectAll("line").remove();};
ax.append("g").call(d3.axisRight(y).tickValues(priceTicks).tickFormat(d3.format(",.2f")).tickSize(0).tickPadding(0)).call(axisStyle);
ax.append("g").attr("transform","translate(0,1)").call(d3.axisRight(iceY).tickValues(iceTicks).tickFormat(d3.format(".2f")).tickSize(0).tickPadding(0)).call(axisStyle);
ax.append("g").attr("transform","translate(0,1)").call(d3.axisRight(dnaY).tickValues(dnaTicks).tickFormat(d3.format(".2f")).tickSize(0).tickPadding(0)).call(axisStyle);
ax.append("g").attr("transform","translate(0,1)").call(d3.axisRight(momY).tickValues(momentumTicks).tickFormat(d3.format(".2f")).tickSize(0).tickPadding(0)).call(axisStyle);

// price tags
function tag(label,value,cy,lx){
  const g=svg.append("g");
  g.append("rect").attr("x",lx).attr("y",cy-17).attr("width",plotR-lx+6).attr("height",34).attr("rx",6).attr("fill","#e3edf9");
  g.append("rect").attr("x",plotR).attr("y",cy-17).attr("width",2).attr("height",34).attr("fill","#fff");
  g.append("rect").attr("x",plotR+2).attr("y",cy-17).attr("width",W-plotR-2).attr("height",34).attr("rx",4).attr("fill","#e3edf9");
  g.append("text").attr("x",lx+10).attr("y",cy).attr("dy",".36em").attr("font-size",24).attr("fill","#131722").text(label);
  g.append("text").attr("x",1233).attr("y",cy).attr("dy",".36em").attr("font-size",23.3).attr("fill","#131722").text(d3.format(",.2f")(value));
}
svg.append("rect").attr("x",1216).attr("y",150).attr("width",132).attr("height",62).attr("rx",4).attr("fill",LIME);
svg.append("text").attr("x",1233).attr("y",173).attr("font-size",23.3).attr("fill","#131722").text("6,575.84");
svg.append("rect").attr("x",1216).attr("y",161).attr("width",132).attr("height",42).attr("rx",5).attr("fill","#131722");
svg.append("text").attr("x",1233).attr("y",181).attr("dy",".36em").attr("font-size",23.3).attr("fill","#fff").text(d3.format(",.2f")(lastPrice));
tag("High",sessionHigh,132.5,1144);
tag("Low",sessionLow,675.5,1152);

// header
const hd=svg.append("g");
hd.append("circle").attr("cx",32).attr("cy",28).attr("r",18).attr("fill","#131722");
hd.append("text").attr("x",32).attr("y",28).attr("dy",".36em").attr("text-anchor","middle").attr("font-size",15).attr("font-weight",700).attr("fill","#fff").text("500");
hd.append("text").attr("x",59).attr("y",40).attr("font-size",30).attr("fill","#131722").attr("textLength",498).attr("lengthAdjust","spacingAndGlyphs").text("S&P 500 Index \u00b7 21 \u00b7 CMC Markets");
hd.append("circle").attr("cx",591).attr("cy",28).attr("r",18).attr("fill","#5fbfa8").attr("opacity",.25);
hd.append("circle").attr("cx",591).attr("cy",28).attr("r",7.5).attr("fill","#5fbfa8");
hd.append("rect").attr("x",3).attr("y",54).attr("width",795).attr("height",35).attr("fill","#fff").attr("opacity",.55);
const fx=[[12,35],[159,180],[305,322],[446,467]];
headerFields.forEach((f,i)=>{
 hd.append("text").attr("x",fx[i][0]).attr("y",81).attr("font-size",25.1).attr("fill","#131722").text(f[0]);
 hd.append("text").attr("x",fx[i][1]).attr("y",81).attr("font-size",25.1).attr("fill","#e05a5a").text(f[1]);
});
hd.append("text").attr("x",591).attr("y",81).attr("font-size",25.1).attr("fill","#e05a5a").text(headerChange);
hd.append("rect").attr("x",15).attr("y",98).attr("width",64).attr("height",38).attr("rx",6).attr("fill","#fff").attr("stroke","#e8e9eb").attr("stroke-width",2);
hd.append("path").attr("d","M28,112L35,120L42,112").attr("fill","none").attr("stroke","#131722").attr("stroke-width",2.4);
hd.append("text").attr("x",55).attr("y",126).attr("font-size",25).attr("fill","#131722").text("3");
hd.append("rect").attr("x",1223).attr("y",5).attr("width",140).attr("height",50).attr("rx",8).attr("fill","#fff").attr("stroke","#e8e9eb").attr("stroke-width",2);
hd.append("text").attr("x",1231).attr("y",39).attr("font-size",24).attr("fill","#131722").text("USD");
hd.append("path").attr("d","M1330,27L1335,33L1340,27").attr("fill","none").attr("stroke","#131722").attr("stroke-width",2.4);
</script></body></html>
